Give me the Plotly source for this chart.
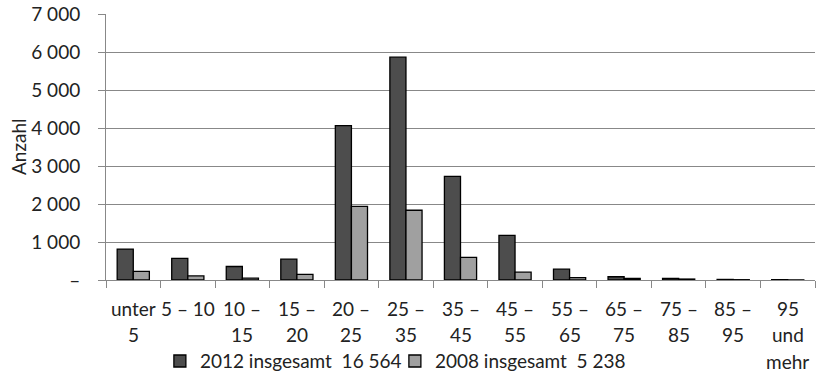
import plotly.graph_objects as go

categories = ["unter 5", "5 – 10", "10 – 15", "15 – 20", "20 – 25", "25 – 35", "35 – 45",
              "45 – 55", "55 – 65", "65 – 75", "75 – 85", "85 – 95", "95 und mehr"]
tick_labels = ["unter\n5", "5 – 10", "10 –\n15", "15 –\n20", "20 –\n25", "25 –\n35", "35 –\n45",
               "45 –\n55", "55 –\n65", "65 –\n75", "75 –\n85", "85 –\n95", "95\nund\nmehr"]
values_2012 = [815, 570, 355, 550, 4060, 5865, 2725, 1175, 285, 85, 45, 15, 10]
values_2008 = [229, 106, 50, 150, 1940, 1835, 593, 205, 61, 40, 25, 8, 3]
name_2012 = "2012 insgesamt\u00a0\u00a016\u00a0564"
name_2008 = "2008 insgesamt\u00a0\u00a05\u00a0238"
y_tickvals = [0, 1000, 2000, 3000, 4000, 5000, 6000, 7000]
y_ticktext = ["–", "1\u00a0000", "2\u00a0000", "3\u00a0000", "4\u00a0000", "5\u00a0000", "6\u00a0000", "7\u00a0000"]

FONT = "Lato"
TXT = "#222222"
FS = 19

fig = go.Figure()
fig.add_trace(go.Bar(x=categories, y=values_2012, name=name_2012,
                     marker=dict(color="#4d4d4d", line=dict(color="#000000", width=1.3))))
fig.add_trace(go.Bar(x=categories, y=values_2008, name=name_2008,
                     marker=dict(color="#a0a0a0", line=dict(color="#000000", width=1.3))))

annotations = []
for cat, lab in zip(categories, tick_labels):
    for i, line in enumerate(lab.split("\n")):
        annotations.append(dict(x=cat, xref="x", y=0, yref="paper", yanchor="middle",
                                yshift=-28 - 26.5 * i, text=line, showarrow=False,
                                font=dict(family=FONT, size=FS, color=TXT)))
annotations.append(dict(x=0, xref="paper", xanchor="center", xshift=-88, y=0.5, yref="paper",
                        text="Anzahl", textangle=-90, showarrow=False,
                        font=dict(family=FONT, size=FS, color=TXT)))

fig.update_layout(
    width=817, height=376,
    margin=dict(l=106, r=2, t=14, b=96, autoexpand=False),
    paper_bgcolor="white", plot_bgcolor="white",
    barmode="group", bargap=0.41, bargroupgap=0,
    font=dict(family=FONT, size=FS, color=TXT),
    showlegend=True,
    legend=dict(orientation="h", x=0.076, xanchor="left", y=-0.305, yanchor="middle",
                font=dict(family=FONT, size=FS, color=TXT), itemwidth=30,
                entrywidth=190, entrywidthmode="pixels",
                bgcolor="rgba(0,0,0,0)", traceorder="normal"),
    annotations=annotations,
)
fig.update_xaxes(type="category", showticklabels=False, ticks="outside", ticklen=7,
                 tickcolor="#888888", tickson="boundaries", showline=True,
                 linecolor="#888888", linewidth=1, showgrid=False, zeroline=False)
fig.update_yaxes(range=[0, 7000], tickvals=y_tickvals, ticktext=y_ticktext,
                 ticks="outside", ticklen=7, tickcolor="#888888", showline=True,
                 linecolor="#888888", linewidth=1, showgrid=True, gridcolor="#888888",
                 gridwidth=1, zeroline=False, ticklabelstandoff=14,
                 tickfont=dict(family=FONT, size=FS, color=TXT))

fig.write_html("out.html")
